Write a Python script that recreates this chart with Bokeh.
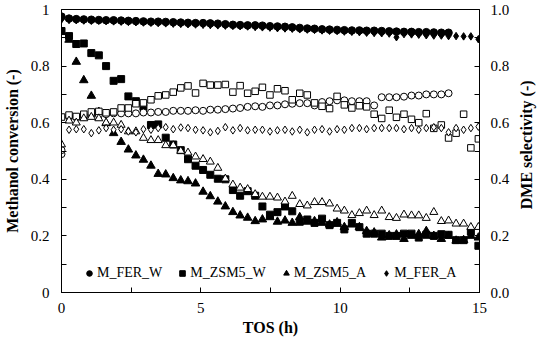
import math
from bokeh.plotting import figure
from bokeh.layouts import row
from bokeh.models import (Range1d, LinearAxis, FixedTicker, CustomJSTickFormatter,
                          Legend, LegendItem, Label)
from bokeh.embed import file_html
from bokeh.resources import INLINE

# ---------------- data ----------------
TOS = [0.00, 0.27, 0.53, 0.80, 1.07, 1.34, 1.60, 1.87, 2.14, 2.40,
       2.67, 2.94, 3.21, 3.47, 3.74, 4.01, 4.28, 4.54, 4.81, 5.08,
       5.34, 5.61, 5.88, 6.15, 6.41, 6.68, 6.95, 7.21, 7.48, 7.75,
       8.02, 8.28, 8.55, 8.82, 9.08, 9.35, 9.62, 9.89, 10.15, 10.42,
       10.69, 10.95, 11.22, 11.49, 11.76, 12.02, 12.29, 12.56, 12.82, 13.09,
       13.36, 13.63, 13.89, 14.16, 14.43, 14.69, 14.96]

# Methanol conversion (left axis, filled markers)
FER_W_conv = [0.975, 0.968, 0.966, 0.965, 0.964, 0.963, 0.962, 0.962, 0.961, 0.960,
              0.959, 0.958, 0.957, 0.957, 0.956, 0.955, 0.954, 0.953, 0.952, 0.952,
              0.951, 0.950, 0.948, 0.946, 0.945, 0.944, 0.944, 0.943, 0.941, 0.940,
              0.939, 0.937, 0.935, 0.933, 0.932, 0.930, 0.929, 0.928, 0.927, 0.926,
              0.926, 0.925, 0.925, 0.924, 0.923, 0.922, 0.921, 0.921, 0.920, 0.920,
              0.919, 0.918, 0.918]
ZSM5_W_conv = [0.924, 0.906, 0.878, 0.880, 0.846, 0.838, 0.800, 0.748, 0.754, 0.693,
               0.676, 0.656, 0.592, 0.594, 0.547, 0.523, 0.503, 0.471, 0.448, 0.433,
               0.416, 0.402, 0.400, 0.362, 0.342, 0.358, 0.342, 0.304, 0.275, 0.284,
               0.304, 0.287, 0.250, 0.258, 0.246, 0.261, 0.238, 0.246, 0.223, 0.246,
               0.231, 0.208, 0.208, 0.208, 0.200, 0.200, 0.208, 0.208, 0.194, 0.204,
               0.200, 0.206, 0.204, 0.185, 0.185, 0.215, 0.165]
ZSM5_A_conv = [0.920, 0.893, 0.815, 0.750, 0.695, 0.638, 0.598, 0.563, 0.532, 0.505,
               0.484, 0.469, 0.448, 0.419, 0.417, 0.404, 0.396, 0.393, 0.385, 0.356,
               0.340, 0.321, 0.304, 0.284, 0.272, 0.264, 0.252, 0.258, 0.266, 0.250,
               0.254, 0.246, 0.266, 0.250, 0.252, 0.246, 0.240, 0.248, 0.231, 0.240,
               0.231, 0.217, 0.212, 0.194, 0.202, 0.205, 0.189, 0.200, 0.206, 0.217,
               0.200, 0.189, 0.200, 0.183, 0.185, 0.200, 0.194]
FER_A_conv = [0.965, 0.963, 0.962, 0.961, 0.960, 0.960, 0.959, 0.958, 0.957, 0.956,
              0.955, 0.954, 0.953, 0.952, 0.951, 0.950, 0.949, 0.948, 0.947, 0.946,
              0.945, 0.944, 0.943, 0.942, 0.941, 0.940, 0.938, 0.937, 0.936, 0.934,
              0.933, 0.932, 0.930, 0.929, 0.928, 0.926, 0.925, 0.924, 0.922, 0.921,
              0.920, 0.918, 0.917, 0.916, 0.915, 0.902, 0.913, 0.912, 0.911, 0.909,
              0.908, 0.908, 0.906, 0.906, 0.905, 0.905, 0.895]

# DME selectivity (right axis, open markers)
FER_W_sel = [0.489, 0.621, 0.619, 0.621, 0.627, 0.627, 0.630, 0.633, 0.633, 0.633,
             0.633, 0.636, 0.636, 0.638, 0.638, 0.642, 0.642, 0.642, 0.644, 0.642,
             0.646, 0.646, 0.648, 0.650, 0.652, 0.656, 0.658, 0.656, 0.661, 0.661,
             0.665, 0.667, 0.669, 0.669, 0.661, 0.673, 0.676, 0.679, 0.679, 0.676,
             0.676, 0.676, 0.661, 0.690, 0.690, 0.690, 0.692, 0.696, 0.696, 0.700,
             0.700, 0.700, 0.704]
FER_W_sel_t0 = [0.503]
ZSM5_W_sel = [0.620, 0.627, 0.622, 0.630, 0.638, 0.640, 0.635, 0.638, 0.652, 0.652,
              0.667, 0.670, 0.681, 0.695, 0.698, 0.708, 0.723, 0.730, 0.705, 0.739,
              0.733, 0.733, 0.735, 0.708, 0.731, 0.704, 0.711, 0.725, 0.698, 0.720,
              0.713, 0.681, 0.704, 0.698, 0.670, 0.658, 0.650, 0.693, 0.663, 0.652,
              0.660, 0.656, 0.630, 0.615, 0.644, 0.619, 0.630, 0.612, 0.600, 0.632,
              0.580, 0.592, 0.546, 0.563, 0.630, 0.511, 0.543]
ZSM5_A_sel = [0.523, 0.607, 0.600, 0.615, 0.620, 0.615, 0.600, 0.600, 0.592, 0.569,
              0.569, 0.546, 0.538, 0.538, 0.520, 0.520, 0.500, 0.494, 0.480, 0.471,
              0.462, 0.440, 0.402, 0.381, 0.370, 0.365, 0.347, 0.338, 0.338, 0.335,
              0.321, 0.341, 0.312, 0.307, 0.319, 0.319, 0.314, 0.296, 0.289, 0.273,
              0.280, 0.289, 0.273, 0.289, 0.266, 0.263, 0.275, 0.272, 0.272, 0.263,
              0.284, 0.252, 0.254, 0.243, 0.243, 0.231, 0.231]
FER_A_sel = [0.575, 0.577, 0.577, 0.563, 0.573, 0.581, 0.575, 0.577, 0.569, 0.566,
             0.577, 0.575, 0.581, 0.584, 0.577, 0.583, 0.581, 0.575, 0.573, 0.566,
             0.571, 0.584, 0.573, 0.581, 0.573, 0.575, 0.575, 0.569, 0.573, 0.575,
             0.569, 0.575, 0.566, 0.575, 0.577, 0.569, 0.577, 0.575, 0.581, 0.581,
             0.577, 0.581, 0.581, 0.581, 0.581, 0.577, 0.581, 0.575, 0.581, 0.584,
             0.581, 0.566, 0.581, 0.575, 0.581, 0.586]

X_TICKS = [0, 5, 10, 15]
X_MINOR = [2.5, 7.5, 12.5]
Y_TICKS = [0.0, 0.2, 0.4, 0.6, 0.8, 1.0]
Y_MINOR = [0.1, 0.3, 0.5, 0.7, 0.9]

SERIF = "Liberation Serif"
FIG_H = 343

# ---------------- main figure ----------------
p = figure(width=512, height=FIG_H, x_range=Range1d(0, 15), y_range=Range1d(0, 1),
           output_backend="svg", toolbar_location=None,
           min_border_left=54, min_border_right=33, min_border_top=9,
           min_border_bottom=51)
p.extra_y_ranges = {"sel": Range1d(0, 1)}
p.xgrid.visible = False
p.ygrid.visible = False
p.outline_line_color = "black"
p.outline_line_width = 1
p.background_fill_color = "white"
p.border_fill_color = "white"

right = LinearAxis(y_range_name="sel")
p.add_layout(right, "right")


def style(ax, label):
    ax.axis_label = label
    ax.axis_label_text_font = SERIF
    ax.axis_label_text_font_style = "bold"
    ax.axis_label_text_font_size = "16px"
    ax.axis_label_text_color = "black"
    ax.major_label_text_font = SERIF
    ax.major_label_text_font_size = "15px"
    ax.major_label_text_color = "black"
    ax.axis_line_color = "black"
    ax.major_tick_line_color = "black"
    ax.minor_tick_line_color = "black"
    ax.major_tick_in = 5
    ax.major_tick_out = 0
    ax.minor_tick_in = 5
    ax.minor_tick_out = 0
    ax.major_label_standoff = 12


xa = p.xaxis[0]
style(xa, "TOS (h)")
xa.ticker = FixedTicker(ticks=X_TICKS, minor_ticks=X_MINOR)
xa.major_label_standoff = 10
xa.axis_label_standoff = 3

ya = p.yaxis[0]
style(ya, "Methanol conversion (-)")
ya.ticker = FixedTicker(ticks=Y_TICKS, minor_ticks=Y_MINOR)
ya.formatter = CustomJSTickFormatter(code="return (Math.round(tick*10)/10).toString();")
ya.axis_label_standoff = 7

style(right, None)
right.ticker = FixedTicker(ticks=Y_TICKS, minor_ticks=Y_MINOR)
right.formatter = CustomJSTickFormatter(code="return tick.toFixed(1);")
right.major_label_standoff = 11

# ---------------- conversion (filled) ----------------
n_fw = len(FER_W_conv)
r_fw = p.scatter(TOS[:n_fw], FER_W_conv, marker="circle", size=7.5,
                 fill_color="black", line_color="black")
r_zw = p.scatter(TOS, ZSM5_W_conv, marker="square", size=7,
                 fill_color="black", line_color="black")
r_za = p.scatter(TOS, ZSM5_A_conv, marker="triangle", size=8.5,
                 fill_color="black", line_color="black")
r_fa = p.scatter(TOS, FER_A_conv, marker="diamond", size=7.5,
                 fill_color="black", line_color="black")

# ---------------- selectivity (open) ----------------
p.scatter(TOS[:len(FER_W_sel)], FER_W_sel, marker="circle", size=7,
          fill_color="white", line_color="black", line_width=1, y_range_name="sel")
p.scatter(TOS[:1], FER_W_sel_t0, marker="circle", size=7,
          fill_color="white", line_color="black", line_width=1, y_range_name="sel")
p.scatter(TOS, ZSM5_W_sel, marker="square", size=6.5,
          fill_color="white", line_color="black", line_width=1, y_range_name="sel")
p.scatter(TOS, ZSM5_A_sel, marker="triangle", size=8,
          fill_color="white", line_color="black", line_width=1, y_range_name="sel")
p.scatter(TOS[1:], FER_A_sel, marker="diamond", size=7.5,
          fill_color="white", line_color="black", line_width=1, y_range_name="sel")

# ---------------- legend ----------------
legend = Legend(items=[LegendItem(label="M_FER_W", renderers=[r_fw]),
                       LegendItem(label="M_ZSM5_W", renderers=[r_zw]),
                       LegendItem(label="M_ZSM5_A", renderers=[r_za]),
                       LegendItem(label="M_FER_A", renderers=[r_fa])],
                orientation="horizontal", location=(21, 11),
                glyph_width=14, glyph_height=14, label_standoff=1, spacing=13,
                padding=0, margin=0, border_line_color=None,
                background_fill_alpha=0,
                label_text_font=SERIF, label_text_font_size="14px",
                label_text_color="black")
p.add_layout(legend, "center")

# ---------------- right-hand axis title (reads bottom-to-top) ----------------
t = figure(width=28, height=FIG_H, x_range=Range1d(0, 1), y_range=Range1d(0, FIG_H),
           x_axis_type=None, y_axis_type=None, output_backend="svg",
           toolbar_location=None, min_border=0, outline_line_color=None)
t.background_fill_color = "white"
t.border_fill_color = "white"
t.add_layout(Label(x=0.5, y=FIG_H - 164, text="DME selectivity (-)",
                   angle=math.pi / 2, text_align="center", text_baseline="middle",
                   text_font=SERIF, text_font_style="bold", text_font_size="16px",
                   text_color="black"))

layout = row(p, t, spacing=0)
open("out.html", "w").write(file_html(layout, INLINE))
